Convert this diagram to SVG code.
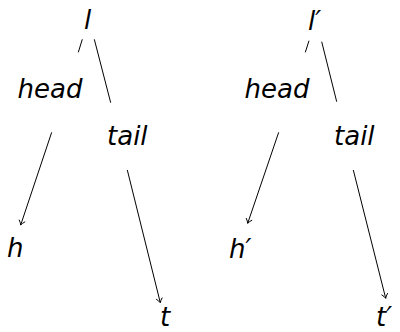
<svg xmlns="http://www.w3.org/2000/svg" width="400" height="332" viewBox="0 0 400 332">
<style>
text{font-family:"DejaVu Sans",sans-serif;font-style:italic;font-size:26px;fill:#000}
.m{text-anchor:middle}
.c line{stroke:#000;stroke-width:1}
</style>
<defs>
<marker id="ah" markerWidth="10" markerHeight="10" refX="0" refY="0" viewBox="-6 -5 8 10" orient="auto" markerUnits="userSpaceOnUse">
<path d="M-4.5,-3.2 Q-2,-0.8 0,0 Q-2,0.8 -4.5,3.2" fill="none" stroke="#000" stroke-width="0.9"/>
</marker>
</defs>
<g id="l"><text x="84" y="29">l</text></g>
<g id="head1"><text class="m" x="50" y="97.5">head</text></g>
<g id="tail1"><text x="107" y="145">tail</text></g>
<g id="h"><text x="7" y="256.5">h</text></g>
<g id="t"><text x="160" y="326">t</text></g>
<g id="lp"><text x="308" y="30">l′</text></g>
<g id="head2"><text class="m" x="277" y="97.5">head</text></g>
<g id="tail2"><text x="334" y="145">tail</text></g>
<g id="hp"><text x="229" y="257.5">h′</text></g>
<g id="tp"><text x="376" y="326">t′</text></g>
<g class="c" id="connectors">
<line x1="82.3" y1="39.3" x2="78.3" y2="52.3"/>
<line x1="94.3" y1="39.3" x2="110.7" y2="102.7"/>
<line x1="51.7" y1="132.3" x2="20.7" y2="225" marker-end="url(#ah)"/>
<line x1="127.3" y1="170" x2="160.3" y2="302.7" marker-end="url(#ah)"/>
<line x1="309" y1="40.7" x2="305.3" y2="52.3"/>
<line x1="321.7" y1="41.7" x2="336.7" y2="101.7"/>
<line x1="278.7" y1="132.3" x2="247.7" y2="223.3" marker-end="url(#ah)"/>
<line x1="353.3" y1="170" x2="385.7" y2="298.3" marker-end="url(#ah)"/>
</g>
</svg>
